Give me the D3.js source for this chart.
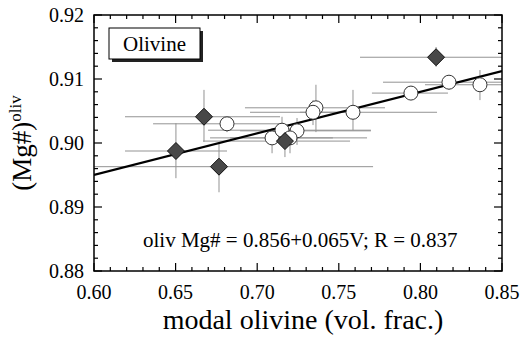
<!DOCTYPE html>
<html><head><meta charset="utf-8">
<script src="https://cdn.jsdelivr.net/npm/d3@7"></script>
<style>body{margin:0;background:#fff}svg{display:block}text{font-family:"Liberation Serif","Times New Roman",serif}</style>
</head><body>
<script>
// Data
const diamondX   = [0.6502, 0.6674, 0.6766, 0.7170, 0.8096];
const diamondY   = [0.89875, 0.9041, 0.8963, 0.9003, 0.9134];
const diamondXlo = [0.6190, 0.6190, 0.6000, 0.6668, 0.7630];
const diamondXhi = [0.6815, 0.7140, 0.7710, 0.7569, 0.8500];
const diamondYlo = [0.8945, 0.9002, 0.8923, 0.8978, 0.9119];
const diamondYhi = [0.9031, 0.9083, 0.9000, 0.9023, 0.9150];

const circleX   = [0.6815, 0.7091, 0.7152, 0.7244, 0.7201, 0.7360, 0.7342, 0.7587, 0.7942, 0.8175, 0.8365];
const circleY   = [0.9030, 0.9008, 0.9020, 0.9019, 0.9008, 0.9055, 0.9048, 0.9048, 0.9078, 0.9095, 0.9091];
const circleXlo = [0.6362, 0.6711, 0.6699, 0.6895, 0.6833, 0.6925, 0.6956, 0.7262, 0.7703, 0.7771, 0.8028];
const circleXhi = [0.7152, 0.7464, 0.7697, 0.7697, 0.7673, 0.7783, 0.7630, 0.8102, 0.8169, 0.8500, 0.8500];
const circleYlo = [0.9017, 0.8984, 0.9005, 0.8997, 0.8984, 0.9017, 0.9028, 0.9020, 0.9067, 0.9083, 0.9067];
const circleYhi = [0.9038, 0.9023, 0.9041, 0.9039, 0.9023, 0.9091, 0.9067, 0.9083, 0.9089, 0.9106, 0.9114];

const fitIntercept = 0.856, fitSlope = 0.065;
const xTickLabels = ["0.60","0.65","0.70","0.75","0.80","0.85"];
const yTickLabels = ["0.88","0.89","0.90","0.91","0.92"];

const W = 522, H = 337;
const m = {l:94, r:20, t:15, b:66};
const svg = d3.select("body").append("svg").attr("width", W).attr("height", H);
const x = d3.scaleLinear().domain([0.60, 0.85]).range([m.l, W - m.r]);
const y = d3.scaleLinear().domain([0.88, 0.92]).range([H - m.b, m.t]);

const xMajor = xTickLabels.map(Number);
const yMajor = yTickLabels.map(Number);
const xMinor = d3.range(0, 26).map(i => 0.60 + i*0.01);
const yMinor = d3.range(0, 21).map(i => 0.88 + i*0.002);

const g = svg.append("g");
svg.append("defs").append("clipPath").attr("id","clip").append("rect")
  .attr("x", m.l).attr("y", m.t).attr("width", W-m.r-m.l).attr("height", H-m.b-m.t);
const plot = g.append("g").attr("clip-path","url(#clip)");

const pts = [];
diamondX.forEach((v,i)=>pts.push({x:v,y:diamondY[i],xlo:diamondXlo[i],xhi:diamondXhi[i],ylo:diamondYlo[i],yhi:diamondYhi[i],t:"d"}));
circleX.forEach((v,i)=>pts.push({x:v,y:circleY[i],xlo:circleXlo[i],xhi:circleXhi[i],ylo:circleYlo[i],yhi:circleYhi[i],t:"c"}));

const eb = plot.append("g").attr("stroke","#939393").attr("stroke-width",1);
pts.forEach(p=>{
  eb.append("line").attr("x1",x(p.xlo)).attr("x2",x(p.xhi)).attr("y1",y(p.y)).attr("y2",y(p.y));
  eb.append("line").attr("x1",x(p.x)).attr("x2",x(p.x)).attr("y1",y(p.ylo)).attr("y2",y(p.yhi));
});

plot.append("line")
  .attr("x1", x(0.60)).attr("y1", y(fitIntercept + fitSlope*0.60))
  .attr("x2", x(0.85)).attr("y2", y(fitIntercept + fitSlope*0.85))
  .attr("stroke","#000").attr("stroke-width",2.2);

plot.selectAll("circle.c").data(pts.filter(p=>p.t==="c")).enter().append("circle")
  .attr("cx",d=>x(d.x)).attr("cy",d=>y(d.y)).attr("r",7)
  .attr("fill","#fff").attr("stroke","#333").attr("stroke-width",1);
plot.selectAll("path.d").data(pts.filter(p=>p.t==="d")).enter().append("path")
  .attr("d", d=>{const cx=x(d.x), cy=y(d.y), s=8.5; return `M${cx},${cy-s}L${cx+s},${cy}L${cx},${cy+s}L${cx-s},${cy}Z`;})
  .attr("fill","#484848").attr("stroke","#111").attr("stroke-width",1);

g.append("rect").attr("x",m.l).attr("y",m.t).attr("width",W-m.r-m.l).attr("height",H-m.b-m.t)
  .attr("fill","none").attr("stroke","#000").attr("stroke-width",1.5);

const tk = g.append("g").attr("stroke","#000").attr("stroke-width",1.2);
xMinor.forEach(v=>{
  const maj = xMajor.some(M=>Math.abs(M-v)<1e-6);
  const L = maj?8:4;
  tk.append("line").attr("x1",x(v)).attr("x2",x(v)).attr("y1",y(0.88)).attr("y2",y(0.88)-L);
  tk.append("line").attr("x1",x(v)).attr("x2",x(v)).attr("y1",y(0.92)).attr("y2",y(0.92)+L);
});
yMinor.forEach(v=>{
  const maj = yMajor.some(M=>Math.abs(M-v)<1e-6);
  const L = maj?8:4;
  tk.append("line").attr("y1",y(v)).attr("y2",y(v)).attr("x1",x(0.60)).attr("x2",x(0.60)+L);
  tk.append("line").attr("y1",y(v)).attr("y2",y(v)).attr("x1",x(0.85)).attr("x2",x(0.85)-L);
});

g.selectAll("text.xl").data(xTickLabels).enter().append("text")
  .attr("x",d=>x(+d)).attr("y",299).attr("text-anchor","middle").attr("font-size",20).text(d=>d);
g.selectAll("text.yl").data(yTickLabels).enter().append("text")
  .attr("x",84).attr("y",d=>y(+d)+7).attr("text-anchor","end").attr("font-size",20).text(d=>d);

svg.append("text").attr("x",303).attr("y",329).attr("text-anchor","middle").attr("font-size",28)
  .text("modal olivine (vol. frac.)");
const yt = svg.append("text").attr("transform","translate(31,143) rotate(-90)").attr("text-anchor","middle").attr("font-size",27);
yt.append("tspan").text("(Mg#)");
yt.append("tspan").attr("font-size",17).attr("dy",-10).text("oliv");

svg.append("text").attr("x",143).attr("y",247).attr("font-size",21)
  .text("oliv Mg# = 0.856+0.065V; R = 0.837");

svg.append("rect").attr("x",112).attr("y",31).attr("width",91).attr("height",31).attr("fill","#222");
svg.append("rect").attr("x",109).attr("y",28).attr("width",91).attr("height",31).attr("fill","#fff").attr("stroke","#000").attr("stroke-width",1);
svg.append("text").attr("x",154.5).attr("y",51).attr("text-anchor","middle").attr("font-size",21).text("Olivine");
</script>
</body></html>
